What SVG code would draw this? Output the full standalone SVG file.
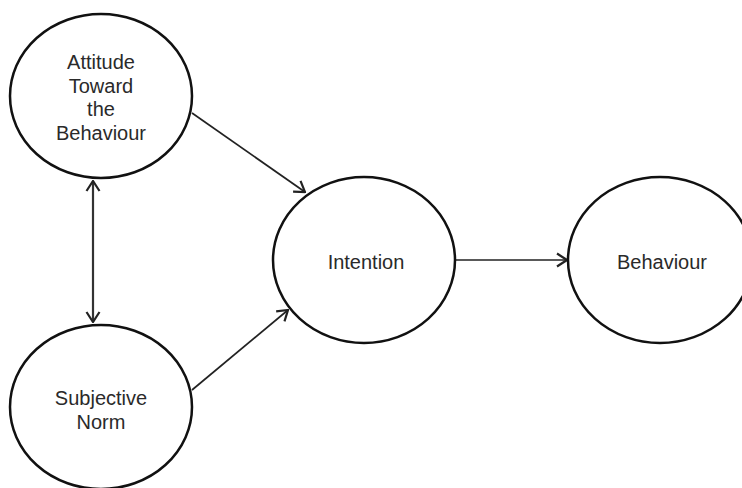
<svg xmlns="http://www.w3.org/2000/svg" width="742" height="488" viewBox="0 0 742 488">
  <style>
    .node { fill: #ffffff; stroke: #111111; stroke-width: 2.5; }
    .label { font-family: "Liberation Sans", Arial, sans-serif; font-size: 20px; fill: #2a2a2a; text-anchor: middle; }
    .edge { fill: none; stroke: #222222; stroke-width: 1.7; }
    .edge-v { fill: none; stroke: #333333; stroke-width: 2.2; }
  </style>
  <defs>
    <marker id="arrow" viewBox="0 0 12 16" refX="11" refY="8" markerWidth="12" markerHeight="16" markerUnits="userSpaceOnUse" orient="auto-start-reverse">
      <path d="M1,1.5 L11,8 L1,14.5" fill="none" stroke="#222222" stroke-width="2.2"/>
    </marker>
  </defs>
  <rect width="742" height="488" fill="#ffffff"/>

  <g id="connectors">
    <line class="edge-v" x1="93" y1="181" x2="93" y2="322" marker-start="url(#arrow)" marker-end="url(#arrow)"/>
    <line class="edge" x1="192" y1="113" x2="305" y2="192" marker-end="url(#arrow)"/>
    <line class="edge" x1="192" y1="390" x2="288" y2="310" marker-end="url(#arrow)"/>
    <line class="edge" x1="456" y1="260" x2="567" y2="260" marker-end="url(#arrow)"/>
  </g>

  <g id="attitude">
    <ellipse class="node" cx="101" cy="96" rx="91" ry="82"/>
    <text class="label" x="101" y="69">Attitude</text>
    <text class="label" x="101" y="93">Toward</text>
    <text class="label" x="101" y="116">the</text>
    <text class="label" x="101" y="140">Behaviour</text>
  </g>

  <g id="subjective-norm">
    <ellipse class="node" cx="101" cy="407" rx="91" ry="82"/>
    <text class="label" x="101" y="405">Subjective</text>
    <text class="label" x="101" y="429">Norm</text>
  </g>

  <g id="intention">
    <ellipse class="node" cx="364" cy="260" rx="91" ry="83"/>
    <text class="label" x="366" y="269">Intention</text>
  </g>

  <g id="behaviour">
    <ellipse class="node" cx="660" cy="260" rx="92" ry="83"/>
    <text class="label" x="662" y="269">Behaviour</text>
  </g>
</svg>
